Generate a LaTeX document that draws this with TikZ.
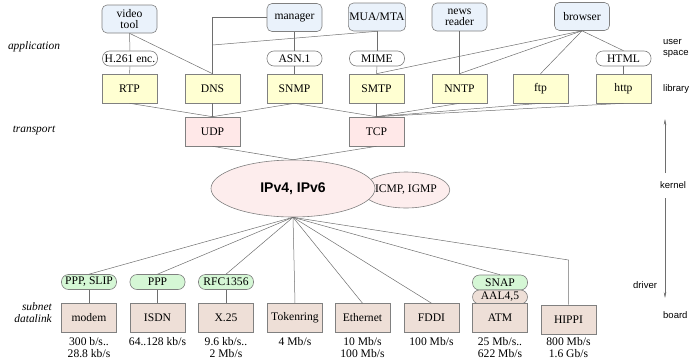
\documentclass[tikz,border=0pt]{standalone}
\usepackage{fontspec}
\setmainfont{Liberation Serif}
\setsansfont{Liberation Sans}
\usetikzlibrary{shapes.geometric,arrows.meta}
\definecolor{appblue}{HTML}{EAF2FB}
\definecolor{libyellow}{HTML}{FFFFD2}
\definecolor{tpink}{HTML}{FFE8E8}
\definecolor{ipfill}{HTML}{FDEDED}
\definecolor{dltan}{HTML}{EEDFD7}
\definecolor{linkgreen}{HTML}{D5F7D5}
\definecolor{edge}{HTML}{808080}
\definecolor{wire}{HTML}{6E6E6E}
\tikzset{
  txt/.style={font=\fontsize{11.6}{11}\selectfont},
  appbox/.style={txt, draw=edge, line width=0.6pt, rounded corners=5pt, fill=appblue,
    minimum width=55pt, minimum height=28pt, align=center, inner sep=1pt},
  protobox/.style={txt, draw=edge, line width=0.6pt, minimum width=55pt, minimum height=29pt, inner sep=1pt},
  libbox/.style={protobox, fill=libyellow},
  transbox/.style={protobox, fill=tpink},
  dlbox/.style={protobox, fill=dltan},
  pill/.style={txt, draw=edge, line width=0.6pt, rounded corners=7pt, fill=white,
    minimum width=55pt, minimum height=15pt, inner sep=0.5pt},
  greenpill/.style={pill, fill=linkgreen},
  tanpill/.style={pill, fill=dltan, minimum height=14pt},
  rate/.style={font=\fontsize{11.6}{12}\selectfont, align=center, inner sep=0pt},
  layer/.style={font=\fontsize{11.4}{11.5}\selectfont\itshape, inner sep=0pt},
  side/.style={font=\sffamily\fontsize{9.5}{11}\selectfont, inner sep=0pt, anchor=west, align=left},
  wirestyle/.style={draw=wire, line width=0.5pt},
}
\begin{document}
\begin{tikzpicture}[x=1pt, y=-1pt]
\useasboundingbox (0,0) rectangle (693,359);

% applications
\node[appbox] (video)   at (129.5,19) {video\\tool};
\node[appbox] (manager) at (294.5,17.5) {manager};
\node[appbox] (mua)     at (377,17) {MUA/MTA};
\node[appbox] (news)    at (459.5,17) {news\\reader};
\node[appbox] (browser) at (582,16.5) {browser};

% presentation helpers
\node[pill] (h261) at (130,58.5) {H.261 enc.};
\node[pill] (asn)  at (294.5,58.5) {ASN.1};
\node[pill] (mime) at (377,58.5) {MIME};
\node[pill] (html) at (623.5,58.5) {HTML};

% application protocols
\node[libbox] (rtp)  at (129.5,88.5) {RTP};
\node[libbox] (dns)  at (212.5,88.5) {DNS};
\node[libbox] (snmp) at (294.5,88.5) {SNMP};
\node[libbox] (smtp) at (376.5,88.5) {SMTP};
\node[libbox] (nntp) at (459.5,88.5) {NNTP};
\node[libbox] (ftp)  at (540.5,88.5) {ftp};
\node[libbox] (http) at (623.5,88.5) {http};

% transport
\node[transbox] (udp) at (212.5,131.5) {UDP};
\node[transbox] (tcp) at (376.5,131.5) {TCP};

% network layer
\node[ellipse, draw=edge, line width=0.6pt, fill=ipfill, minimum width=66pt, minimum height=36pt,
  inner sep=0pt, txt] (icmp) at (406,190) {ICMP, IGMP};
\node[ellipse, draw=edge, line width=0.6pt, fill=ipfill, minimum width=164pt, minimum height=57pt,
  inner sep=0pt, font=\sffamily\bfseries\fontsize{14}{14}\selectfont] (ip) at (293,188.5) {IPv4, IPv6};

% link adaptation
\node[greenpill] (slip)  at (89,282) {PPP, SLIP};
\node[greenpill] (ppp)   at (157.5,282) {PPP};
\node[greenpill] (rfc)   at (226,282) {RFC1356};
\node[greenpill] (snap)  at (500,282.5) {SNAP};
\node[tanpill]   (aal)   at (500,297) {AAL4,5};

% subnets
\node[dlbox] (modem) at (89,318) {modem};
\node[dlbox] (isdn)  at (157.5,318) {ISDN};
\node[dlbox] (x25)   at (226,318) {X.25};
\node[dlbox] (token) at (295,318) {Tokenring};
\node[dlbox] (eth)   at (362.5,318) {Ethernet};
\node[dlbox] (fddi)  at (431.5,318) {FDDI};
\node[dlbox] (atm)   at (500,318) {ATM};
\node[dlbox] (hippi) at (568.5,319.5) {HIPPI};

% data rates
\node[rate] (rmodem) at (89,348) {300 b/s..\\28.8 kb/s};
\node[rate] (risdn)  at (157.5,342) {64..128 kb/s};
\node[rate] (rx25)   at (226,348) {9.6 kb/s..\\2 Mb/s};
\node[rate] (rtoken) at (295,342) {4 Mb/s};
\node[rate] (reth)   at (362.5,348) {10 Mb/s\\100 Mb/s};
\node[rate] (rfddi)  at (431.5,342) {100 Mb/s};
\node[rate] (ratm)   at (500,348) {25 Mb/s..\\622 Mb/s};
\node[rate] (rhippi) at (568.5,348) {800 Mb/s\\1.6 Gb/s};

% layer names
\node[layer] (lapp)   at (34,47) {application};
\node[layer] (ltrans) at (34,131) {transport};
\node[layer, align=right, anchor=east] (lsub) at (52,312.5) {subnet\\datalink};

% privilege levels
\node[side] (luser)   at (663,48) {user\\space};
\node[side] (llib)    at (663,89) {library};
\node[side] (lkernel) at (660,185.5) {kernel};
\node[side] (ldriver) at (633,285) {driver};
\node[side] (lboard)  at (663,315.5) {board};
\coordinate (upfrom) at (665,173);
\coordinate (upto)   at (665,119);
\coordinate (dnfrom) at (665,198);
\coordinate (dnto)   at (665,298);
\draw[wirestyle, -{Stealth[length=6pt,width=2.5pt]}] (upfrom) -- (upto);
\draw[wirestyle, -{Stealth[length=6pt,width=2.5pt]}] (dnfrom) -- (dnto);

% application wiring
\coordinate (dnsjoin) at (212.5,45);
\draw[wirestyle] (video.south) -- (h261.north);
\draw[wirestyle] (h261.south) -- (rtp.north);
\draw[wirestyle] (video.south) -- (dns.north);
\draw[wirestyle] (manager.west) -| (dns.north);
\draw[wirestyle] (mua.south) -- (dnsjoin);
\draw[wirestyle] (manager.south) -- (asn.north);
\draw[wirestyle] (asn.south) -- (snmp.north);
\draw[wirestyle] (mua.south) -- (mime.north);
\draw[wirestyle] (mime.south) -- (smtp.north);
\draw[wirestyle] (news.south) -- (nntp.north);
\draw[wirestyle] (browser.south) -- (smtp.north);
\draw[wirestyle] (browser.south) -- (nntp.north);
\draw[wirestyle] (browser.south) -- (ftp.north);
\draw[wirestyle] (browser.south) -- (html.north);
\draw[wirestyle] (html.south) -- (http.north);

% transport wiring
\draw[wirestyle] (rtp.south) -- (udp.north);
\draw[wirestyle] (dns.south) -- (udp.north);
\draw[wirestyle] (snmp.south) -- (udp.north);
\draw[wirestyle] (snmp.south) -- (tcp.north);
\draw[wirestyle] (smtp.south) -- (tcp.north);
\draw[wirestyle] (nntp.south) -- (tcp.north);
\draw[wirestyle] (ftp.south) -- (tcp.north);
\draw[wirestyle] (http.south) -- (tcp.north);
\draw[wirestyle] (udp.south) -- (ip.north);
\draw[wirestyle] (tcp.south) -- (ip.north);

% network to subnets
\coordinate (hippibend) at (568.5,260);
\draw[wirestyle] (ip.south) -- (slip.north);
\draw[wirestyle] (ip.south) -- (ppp.north);
\draw[wirestyle] (ip.south) -- (rfc.north);
\draw[wirestyle] (ip.south) -- (token.north);
\draw[wirestyle] (ip.south) -- (eth.north);
\draw[wirestyle] (ip.south) -- (fddi.north);
\draw[wirestyle] (ip.south) -- (snap.north);
\draw[wirestyle] (ip.south) -- (hippibend) -- (hippi.north);
\draw[wirestyle] (slip.south) -- (modem.north);
\draw[wirestyle] (ppp.south) -- (isdn.north);
\draw[wirestyle] (rfc.south) -- (x25.north);
\end{tikzpicture}
\end{document}
